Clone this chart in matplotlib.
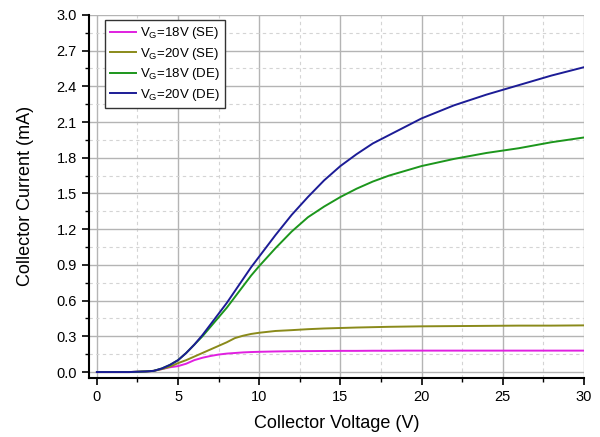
import numpy as np
import matplotlib.pyplot as plt
from matplotlib.ticker import MultipleLocator

plt.rcParams['font.family'] = ['Liberation Sans', 'DejaVu Sans']
plt.rcParams['mathtext.fontset'] = 'custom'
plt.rcParams['mathtext.rm'] = 'Liberation Sans'

# collector voltage (V)
vc = [0, 1, 2, 3, 3.5, 4, 4.5, 5, 5.5, 6, 6.5, 7, 7.5, 8, 8.5, 9, 9.5, 10,
      11, 12, 13, 14, 15, 16, 17, 18, 19, 20, 22, 24, 26, 28, 30]

# collector current (mA)
se18 = [0, 0, 0, 0.005, 0.01, 0.025, 0.04, 0.05, 0.07, 0.10, 0.12, 0.135, 0.147,
        0.155, 0.16, 0.165, 0.168, 0.17, 0.173, 0.175, 0.176, 0.177, 0.178, 0.178,
        0.179, 0.179, 0.18, 0.18, 0.18, 0.18, 0.18, 0.18, 0.18]
se20 = [0, 0, 0, 0.005, 0.01, 0.025, 0.045, 0.075, 0.10, 0.13, 0.16, 0.19, 0.22,
        0.25, 0.285, 0.305, 0.32, 0.33, 0.345, 0.352, 0.36, 0.366, 0.37, 0.374,
        0.377, 0.38, 0.382, 0.384, 0.386, 0.388, 0.39, 0.39, 0.392]
de18 = [0, 0, 0, 0.005, 0.01, 0.03, 0.06, 0.10, 0.16, 0.23, 0.30, 0.38, 0.46,
        0.54, 0.63, 0.72, 0.81, 0.89, 1.04, 1.18, 1.30, 1.39, 1.47, 1.54, 1.60,
        1.65, 1.69, 1.73, 1.79, 1.84, 1.88, 1.93, 1.97]
de20 = [0, 0, 0, 0.005, 0.01, 0.03, 0.06, 0.10, 0.16, 0.23, 0.31, 0.40, 0.49,
        0.58, 0.68, 0.78, 0.88, 0.97, 1.15, 1.32, 1.47, 1.61, 1.73, 1.83, 1.92,
        1.99, 2.06, 2.13, 2.24, 2.33, 2.41, 2.49, 2.56]

fig = plt.figure(figsize=(6, 4.37), dpi=100)
ax = fig.add_axes([0.148, 0.135, 0.825, 0.831])

sub = r'$_\mathregular{G}$'
ax.plot(vc, se18, color='#e020e0', lw=1.4, label='V' + sub + '=18V (SE)')
ax.plot(vc, se20, color='#8a8a1a', lw=1.4, label='V' + sub + '=20V (SE)')
ax.plot(vc, de18, color='#1c961c', lw=1.4, label='V' + sub + '=18V (DE)')
ax.plot(vc, de20, color='#1c1c96', lw=1.4, label='V' + sub + '=20V (DE)')

ax.set_xlim(-0.5, 30)
ax.set_ylim(-0.05, 3.0)
ax.xaxis.set_major_locator(MultipleLocator(5))
ax.xaxis.set_minor_locator(MultipleLocator(2.5))
ax.yaxis.set_major_locator(MultipleLocator(0.3))
ax.yaxis.set_minor_locator(MultipleLocator(0.15))
ax.yaxis.set_major_formatter(plt.FormatStrFormatter('%.1f'))

ax.grid(which='major', color='#b4b4b4', lw=1.0, ls='-')
ax.grid(which='minor', color='#d4d4d4', lw=0.8, ls=(0, (3, 3)))
ax.set_axisbelow(True)

for s in ['top', 'right']:
    ax.spines[s].set_visible(False)
for s in ['left', 'bottom']:
    ax.spines[s].set_linewidth(1.5)

ax.tick_params(which='major', direction='out', length=5, width=1.2, labelsize=10.5)
ax.tick_params(which='minor', direction='out', length=3, width=1.0)

ax.set_xlabel('Collector Voltage (V)', fontsize=13, labelpad=8)
ax.set_ylabel('Collector Current (mA)', fontsize=13, labelpad=16)

leg = ax.legend(loc='upper left', bbox_to_anchor=(0.032, 0.986), borderaxespad=0,
                fontsize=9.5, fancybox=False, framealpha=1, edgecolor='#333333',
                handlelength=2.0, handletextpad=0.3, labelspacing=0.35, borderpad=0.4)
leg.get_frame().set_linewidth(1.0)

fig.savefig('out.png')
